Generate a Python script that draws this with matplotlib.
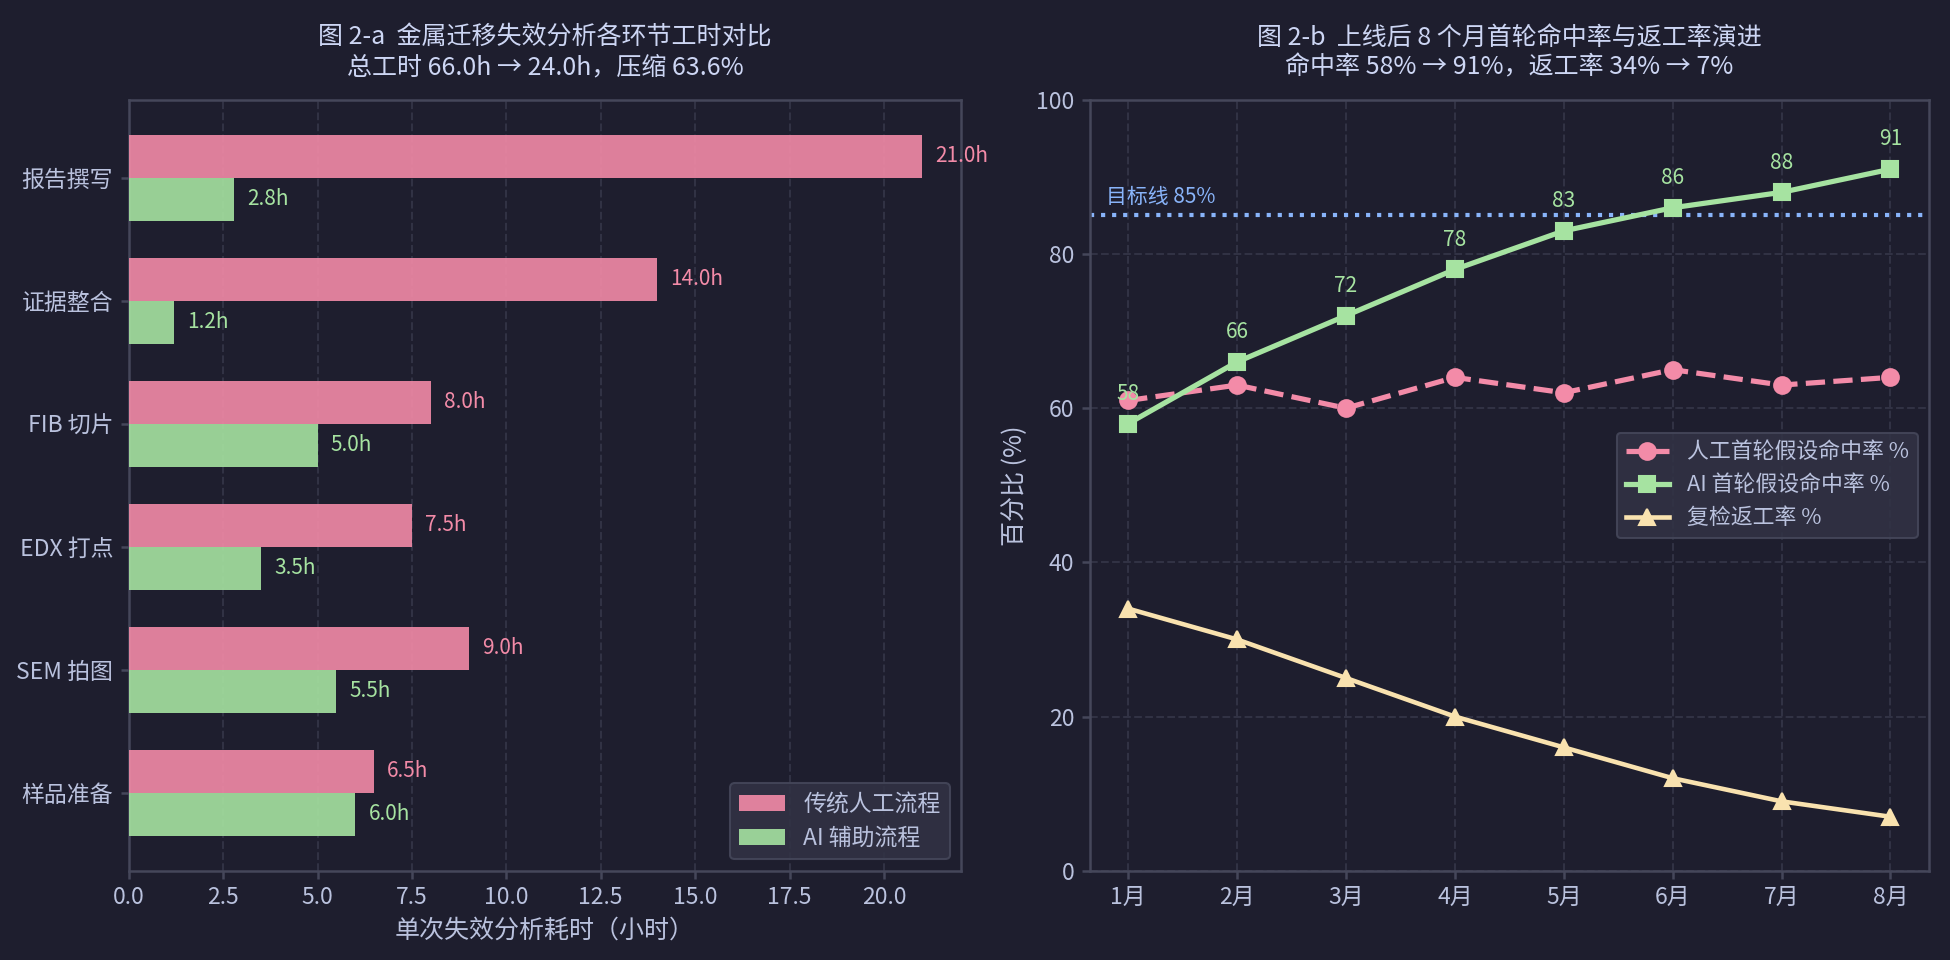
import matplotlib
matplotlib.use("Agg")
import matplotlib.pyplot as plt
import numpy as np

# colours (catppuccin-like dark theme)
BG = "#1e1e2e"
PANEL = "#313244"
EDGE = "#45475a"
TEXT = "#cdd6f4"
SUB = "#bac2de"
PINK = "#f38ba8"
GREEN = "#a6e3a1"
YELLOW = "#f9e2af"
BLUE = "#89b4fa"

plt.rcParams["font.family"] = ["Noto Sans CJK SC", "DejaVu Sans"]
plt.rcParams["axes.unicode_minus"] = False

# data: left chart
steps = ["样品准备", "SEM 拍图", "EDX 打点", "FIB 切片", "证据整合", "报告撰写"]
manual_hours = [6.5, 9.0, 7.5, 8.0, 14.0, 21.0]
ai_hours = [6.0, 5.5, 3.5, 5.0, 1.2, 2.8]

# data: right chart
months = ["1月", "2月", "3月", "4月", "5月", "6月", "7月", "8月"]
manual_hit = [61, 63, 60, 64, 62, 65, 63, 64]
ai_hit = [58, 66, 72, 78, 83, 86, 88, 91]
rework = [34, 30, 25, 20, 16, 12, 9, 7]
target = 85


def style_axes(ax):
    ax.set_facecolor(BG)
    for s in ax.spines.values():
        s.set_color(EDGE)
        s.set_linewidth(1.2)
    ax.tick_params(axis="both", colors=EDGE, labelcolor=SUB, labelsize=11, length=4, width=1.2)


fig = plt.figure(figsize=(13, 6.4), dpi=150, facecolor=BG)
ax1 = fig.add_axes([0.066, 0.093, 0.427, 0.803])
ax2 = fig.add_axes([0.559, 0.093, 0.430, 0.803])

# ---- left: horizontal bars
style_axes(ax1)
y = np.arange(len(steps))
h = 0.35
ax1.barh(y + h / 2, manual_hours, height=h, color=PINK, alpha=0.9, label="传统人工流程", zorder=3)
ax1.barh(y - h / 2, ai_hours, height=h, color=GREEN, alpha=0.9, label="AI 辅助流程", zorder=3)
for yi, v in zip(y, manual_hours):
    ax1.text(v + 0.35, yi + h / 2, f"{v:.1f}h", color=PINK, fontsize=10, va="center", ha="left")
for yi, v in zip(y, ai_hours):
    ax1.text(v + 0.35, yi - h / 2, f"{v:.1f}h", color=GREEN, fontsize=10, va="center", ha="left")
ax1.set_yticks(y)
ax1.set_yticklabels(steps)
ax1.set_xlim(0, max(manual_hours) * 1.05)
ax1.grid(True, axis="x", color=PANEL, linestyle="--", linewidth=1.0, zorder=0)
ax1.set_axisbelow(True)
ax1.set_xlabel("单次失效分析耗时（小时）", color=SUB, fontsize=12)
tot_m, tot_a = sum(manual_hours), sum(ai_hours)
ax1.set_title(
    f"图 2-a  金属迁移失效分析各环节工时对比\n总工时 {tot_m:.1f}h → {tot_a:.1f}h，压缩 {(1 - tot_a / tot_m) * 100:.1f}%",
    color=TEXT, fontsize=12, pad=12,
)
ax1.legend(loc="lower right", fontsize=11, facecolor=PANEL, edgecolor=EDGE,
           labelcolor=SUB, framealpha=0.9)

# ---- right: lines
style_axes(ax2)
x = np.arange(len(months))
ax2.plot(x, manual_hit, color=PINK, linestyle="--", marker="o", linewidth=2.5, markersize=8,
         label="人工首轮假设命中率 %", zorder=3)
ax2.plot(x, ai_hit, color=GREEN, linestyle="-", marker="s", linewidth=2.5, markersize=8,
         label="AI 首轮假设命中率 %", zorder=4)
ax2.plot(x, rework, color=YELLOW, linestyle="-", marker="^", linewidth=2.2, markersize=8,
         label="复检返工率 %", zorder=3)
for xi, v in zip(x, ai_hit):
    ax2.annotate(f"{v}", (xi, v), textcoords="offset points", xytext=(0, 9),
                 ha="center", va="bottom", color=GREEN, fontsize=10)
ax2.axhline(target, color=BLUE, linestyle=":", linewidth=2.0, zorder=2)
ax2.text(-0.2, target + 1.0, f"目标线 {target}%", color=BLUE, fontsize=10, va="bottom", ha="left")
ax2.set_xticks(x)
ax2.set_xticklabels(months)
ax2.set_ylim(0, 100)
ax2.grid(True, color=PANEL, linestyle="--", linewidth=1.0, zorder=0)
ax2.set_axisbelow(True)
ax2.set_ylabel("百分比 (%)", color=SUB, fontsize=12)
ax2.set_title(
    f"图 2-b  上线后 8 个月首轮命中率与返工率演进\n命中率 {ai_hit[0]}% → {ai_hit[-1]}%，返工率 {rework[0]}% → {rework[-1]}%",
    color=TEXT, fontsize=12, pad=12,
)
ax2.legend(loc="center right", fontsize=10.5, facecolor=PANEL, edgecolor=EDGE,
           labelcolor=SUB, framealpha=0.9)

fig.savefig("out.png", dpi=150, facecolor=BG)
